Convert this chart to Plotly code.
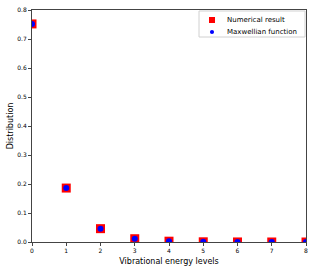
import plotly.graph_objects as go

levels = [0, 1, 2, 3, 4, 5, 6, 7, 8]
numerical = [0.752, 0.186, 0.046, 0.0113, 0.0028, 0.0007, 0.00017, 0.00004, 0.00001]
maxwellian = [0.752, 0.186, 0.046, 0.0113, 0.0028, 0.0007, 0.00017, 0.00004, 0.00001]
x_ticks = [0, 1, 2, 3, 4, 5, 6, 7, 8]
y_ticks = [0.0, 0.1, 0.2, 0.3, 0.4, 0.5, 0.6, 0.7, 0.8]
series_names = ["Numerical result", "Maxwellian function"]

fig = go.Figure()
fig.add_trace(go.Scatter(x=levels, y=numerical, mode="markers", name=series_names[0],
                         marker=dict(symbol="square", size=9, color="red")))
fig.add_trace(go.Scatter(x=levels, y=maxwellian, mode="markers", name=series_names[1],
                         marker=dict(symbol="circle", size=6, color="blue")))

axis_common = dict(showgrid=False, zeroline=False, showline=True, linecolor="#444", linewidth=1,
                   mirror=True, ticks="outside", ticklen=3, tickwidth=1, tickcolor="#444",
                   automargin=False,
                   tickfont=dict(size=6, family="DejaVu Sans", color="black"))
fig.update_xaxes(range=[0, 8], tickvals=x_ticks, **axis_common,
                 title=dict(text="Vibrational energy levels", font=dict(size=8, family="DejaVu Sans", color="black"), standoff=5))
fig.update_yaxes(range=[0, 0.8], tickvals=y_ticks, tickformat=".1f", **axis_common,
                 title=dict(text="Distribution", font=dict(size=8, family="DejaVu Sans", color="black"), standoff=2))

# manual compact legend (matplotlib style)
fig.add_shape(type="rect", xref="paper", yref="paper", x0=0.6095, x1=0.9964, y0=0.8836, y1=0.9957,
              line=dict(color="#d0d0d0", width=1), fillcolor="white", layer="above")
fig.add_shape(type="rect", xref="paper", yref="paper", x0=0.6569 - 0.011, x1=0.6569 + 0.011,
              y0=0.9569 - 0.013, y1=0.9569 + 0.013, line=dict(width=0), fillcolor="red", layer="above")
fig.add_shape(type="circle", xref="paper", yref="paper", x0=0.6569 - 0.0075, x1=0.6569 + 0.0075,
              y0=0.9052 - 0.0088, y1=0.9052 + 0.0088, line=dict(width=0), fillcolor="blue", layer="above")
for name, yy in zip(series_names, [0.9569, 0.9052]):
    fig.add_annotation(xref="paper", yref="paper", x=0.7044, y=yy, xanchor="left", yanchor="middle",
                       text=name, showarrow=False, font=dict(size=7, family="DejaVu Sans", color="black"))

fig.update_layout(
    width=315, height=270,
    margin=dict(l=32, r=9, t=10, b=28),
    plot_bgcolor="white", paper_bgcolor="white",
    showlegend=False,
)
fig.write_html("out.html", config={"displayModeBar": False},
               post_script="document.body.style.margin='0';document.body.style.overflow='hidden';")
